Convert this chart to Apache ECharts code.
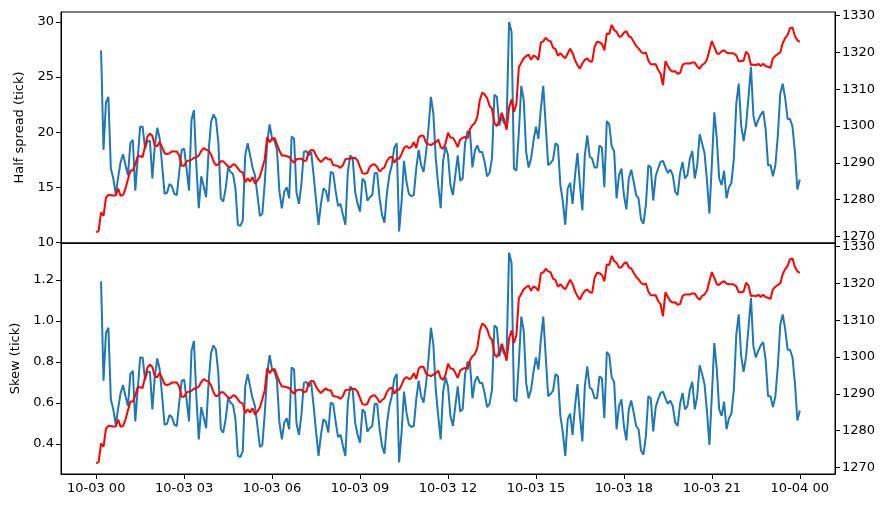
<!DOCTYPE html>
<html>
<head>
    <meta charset="utf-8">
    <title>Half spread / Skew</title>
    <script src="https://cdn.jsdelivr.net/npm/echarts@6/dist/echarts.min.js"></script>
    <style>
        html, body { margin: 0; padding: 0; background: #fff; }
        #main { width: 891px; height: 508px; }
    </style>
</head>
<body>
<div id="main"></div>
<script type="text/javascript">
    // 5 minute samples over 10-03; mid price starts 00:00, spread/skew start 00:10
    var stepHours = 5 / 60;
    var midStartIndex = 0;
    var spreadStartIndex = 2;

    // mid price (right axes, red), one line = one hour
    var midPrice = [
        1271.1,1271.5,1276.5,1275.6,1280.5,1281.3,1281.2,1281.1,1281.1,1283.0,1281.0,1281.3,
        1283.0,1285.5,1287.9,1287.9,1289.5,1291.8,1291.8,1291.6,1294.5,1297.2,1297.9,1297.3,
        1294.7,1294.5,1295.7,1294.2,1292.6,1292.4,1292.6,1293.1,1293.1,1293.1,1292.0,1289.2,
        1289.2,1290.4,1290.6,1290.8,1291.4,1291.5,1292.0,1293.2,1294.0,1293.6,1293.3,1292.3,
        1290.5,1289.3,1289.6,1290.4,1290.4,1289.7,1289.0,1288.8,1289.6,1289.4,1288.5,1287.6,
        1287.4,1284.7,1285.8,1284.9,1286.1,1284.3,1285.2,1286.3,1288.5,1291.0,1297.0,1295.6,
        1296.5,1296.8,1295.0,1293.3,1292.0,1292.0,1291.8,1291.6,1290.7,1290.0,1291.0,1291.1,
        1291.1,1290.5,1290.6,1292.9,1293.5,1293.4,1292.0,1290.9,1290.2,1290.9,1291.5,1290.9,
        1291.0,1289.4,1289.3,1289.1,1288.6,1289.4,1291.0,1291.1,1291.1,1291.4,1291.3,1290.6,
        1288.8,1287.2,1287.0,1287.3,1288.9,1289.5,1289.6,1288.8,1287.6,1288.3,1288.8,1290.5,
        1291.4,1291.7,1290.0,1291.1,1291.1,1292.4,1294.0,1294.6,1294.0,1294.3,1295.6,1294.0,
        1296.9,1297.4,1297.3,1295.5,1295.1,1294.8,1295.2,1295.6,1296.3,1294.3,1293.8,1295.2,
        1298.2,1296.9,1296.8,1295.7,1294.3,1296.4,1296.8,1297.0,1296.7,1299.1,1300.2,1300.8,
        1302.5,1307.0,1309.1,1308.6,1307.6,1305.5,1304.7,1300.8,1300.0,1301.5,1303.6,1301.6,
        1299.0,1305.0,1307.2,1303.8,1306.0,1316.0,1317.2,1318.4,1319.0,1319.4,1318.0,1319.2,
        1318.8,1318.0,1322.7,1323.0,1324.0,1323.3,1323.0,1321.3,1320.9,1319.1,1319.8,1319.0,
        1318.4,1319.7,1321.0,1319.8,1317.9,1316.5,1315.6,1317.0,1318.0,1318.4,1317.6,1317.5,
        1321.5,1322.9,1322.8,1322.3,1320.6,1325.2,1325.0,1327.5,1326.1,1325.6,1324.3,1324.4,
        1325.4,1325.8,1324.4,1324.1,1322.9,1321.8,1321.1,1320.2,1319.7,1320.0,1317.8,1316.8,
        1316.8,1316.8,1315.3,1314.3,1311.1,1317.6,1316.3,1315.2,1314.8,1314.9,1314.2,1314.4,
        1316.6,1317.0,1317.0,1317.0,1317.3,1317.3,1316.2,1315.6,1316.6,1317.0,1318.0,1320.6,
        1323.1,1321.5,1319.8,1319.6,1320.3,1320.6,1320.0,1319.8,1319.8,1319.7,1319.2,1317.6,
        1317.6,1317.8,1320.2,1319.4,1316.6,1316.7,1316.5,1316.9,1316.3,1316.9,1316.3,1316.1,
        1315.8,1318.4,1319.1,1319.6,1320.0,1322.5,1323.9,1324.8,1326.6,1326.8,1324.5,1323.3,
        1322.9
    ];

    // half spread in ticks (top panel, blue)
    var halfSpread = [
        27.4,18.4,22.7,23.2,16.7,15.8,14.4,15.9,17.3,18.0,
        17.0,16.1,19.0,19.3,14.7,17.6,20.5,20.5,18.5,19.2,19.2,15.8,
        18.8,20.4,19.4,17.0,14.4,14.5,15.3,15.1,14.4,14.3,16.4,18.4,
        18.5,16.7,14.7,21.1,22.0,17.0,13.1,16.0,15.1,14.1,18.2,20.9,
        21.6,21.2,19.1,14.0,13.7,14.9,16.8,16.4,16.2,14.9,11.6,11.5,
        12.0,17.9,19.0,17.9,16.8,16.1,14.3,12.4,12.6,15.4,19.1,20.7,
        19.4,19.2,18.4,14.6,13.1,14.6,15.0,14.0,19.6,19.4,14.5,13.5,
        15.3,18.2,18.3,17.9,18.2,16.1,13.8,11.6,13.5,14.9,14.7,13.7,
        16.4,16.3,14.7,13.3,13.5,12.5,11.6,16.4,17.9,17.6,14.6,13.5,
        12.8,15.8,15.5,13.8,14.1,14.3,16.3,16.3,14.0,12.5,11.8,14.5,
        16.1,17.0,18.6,19.0,11.0,13.7,17.4,15.5,14.4,14.2,14.3,16.7,
        18.4,17.0,16.4,18.1,20.3,23.2,21.7,17.6,15.2,13.1,17.4,18.7,
        17.9,15.2,14.3,16.1,17.9,15.6,15.8,19.0,20.1,20.0,16.8,18.3,
        18.8,18.2,18.2,17.3,16.0,16.3,17.6,23.4,23.2,20.6,21.4,20.8,
        21.0,30.0,29.1,16.7,16.5,20.0,24.2,22.9,18.2,16.8,17.6,19.2,
        20.5,19.4,22.1,24.2,20.6,17.0,17.2,17.5,19.0,18.8,15.2,13.7,
        11.6,14.9,15.4,13.5,16.1,18.1,15.2,12.9,17.9,19.7,17.8,17.6,
        16.8,16.8,18.8,18.6,15.0,21.0,20.7,18.7,18.3,14.0,16.1,16.7,
        14.3,13.0,15.8,16.6,15.5,14.3,14.0,12.1,11.7,13.4,17.0,16.8,
        13.8,16.0,16.7,17.3,17.4,16.8,16.3,16.6,16.1,14.6,14.3,16.3,
        17.3,15.8,16.1,17.6,18.3,15.8,17.0,19.8,19.0,18.1,15.6,12.6,
        17.1,21.8,19.5,15.8,15.2,16.5,14.0,15.0,15.4,17.6,22.6,24.4,
        20.6,19.2,20.6,23.2,25.9,21.5,20.5,21.1,21.6,21.9,20.3,17.0,
        17.0,16.0,17.0,19.7,23.5,24.4,23.1,21.2,21.2,20.5,18.2,14.8,
        15.7
    ];

    // skew in ticks (bottom panel, blue)
    var skew = [
        1.194,0.709,0.940,0.967,0.618,0.569,0.494,0.574,0.649,0.687,
        0.633,0.585,0.741,0.757,0.510,0.665,0.822,0.822,0.714,0.752,0.752,0.569,
        0.730,0.817,0.763,0.633,0.494,0.499,0.542,0.531,0.494,0.488,0.602,0.709,
        0.714,0.618,0.510,0.854,0.902,0.633,0.423,0.580,0.531,0.477,0.698,0.843,
        0.881,0.860,0.746,0.472,0.456,0.521,0.623,0.602,0.591,0.521,0.342,0.337,
        0.364,0.681,0.741,0.681,0.623,0.585,0.488,0.386,0.396,0.548,0.746,0.833,
        0.763,0.752,0.709,0.504,0.423,0.504,0.526,0.472,0.773,0.763,0.499,0.445,
        0.542,0.698,0.703,0.681,0.698,0.585,0.461,0.342,0.445,0.521,0.510,0.456,
        0.602,0.596,0.510,0.434,0.445,0.391,0.342,0.602,0.681,0.665,0.504,0.445,
        0.407,0.569,0.553,0.461,0.477,0.488,0.596,0.596,0.472,0.391,0.353,0.499,
        0.585,0.633,0.719,0.741,0.310,0.456,0.655,0.553,0.494,0.483,0.488,0.618,
        0.709,0.633,0.602,0.692,0.811,0.967,0.887,0.665,0.537,0.423,0.655,0.725,
        0.681,0.537,0.488,0.585,0.681,0.558,0.569,0.741,0.800,0.795,0.623,0.703,
        0.730,0.698,0.698,0.649,0.580,0.596,0.665,0.978,0.967,0.827,0.871,0.838,
        0.849,1.333,1.284,0.618,0.607,0.795,1.021,0.951,0.698,0.623,0.665,0.752,
        0.822,0.763,0.907,1.021,0.827,0.633,0.644,0.660,0.741,0.730,0.537,0.456,
        0.342,0.521,0.548,0.445,0.585,0.692,0.537,0.413,0.681,0.779,0.676,0.665,
        0.623,0.623,0.730,0.719,0.526,0.849,0.833,0.725,0.703,0.472,0.585,0.618,
        0.488,0.418,0.569,0.612,0.553,0.488,0.472,0.369,0.348,0.440,0.633,0.623,
        0.461,0.580,0.618,0.649,0.655,0.623,0.596,0.612,0.585,0.504,0.488,0.596,
        0.649,0.569,0.585,0.665,0.703,0.569,0.633,0.784,0.741,0.692,0.558,0.396,
        0.638,0.892,0.768,0.569,0.537,0.607,0.472,0.526,0.548,0.665,0.934,1.032,
        0.827,0.752,0.827,0.967,1.112,0.876,0.822,0.854,0.881,0.897,0.811,0.633,
        0.633,0.580,0.633,0.779,0.983,1.032,0.961,0.860,0.860,0.822,0.698,0.515,
        0.564
    ];

    // tick labels
    var hourTicks = [0, 3, 6, 9, 12, 15, 18, 21, 24];
    var hourLabels = ['10-03 00', '10-03 03', '10-03 06', '10-03 09', '10-03 12',
                      '10-03 15', '10-03 18', '10-03 21', '10-04 00'];
    var spreadTicks = [10, 15, 20, 25, 30];
    var skewTicks = [0.4, 0.6, 0.8, 1.0, 1.2];
    var priceTicks = [1270, 1280, 1290, 1300, 1310, 1320, 1330];

    function pairs(values, startIndex) {
        return values.map(function (v, i) {
            return [(startIndex + i) * stepHours, v];
        });
    }

    var txt = { color: '#000', fontSize: 13, fontFamily: 'DejaVu Sans' };

    function yAxis(grid, side, min, max, ticks, fmt, name, gap) {
        return {
            type: 'value', gridIndex: grid, position: side, min: min, max: max,
            name: name || '', nameLocation: 'middle', nameRotate: 90, nameGap: gap || 0,
            nameTextStyle: txt,
            axisLine: { show: true, onZero: false, lineStyle: { color: '#000', width: 1 } },
            axisTick: { show: true, length: 5, customValues: ticks, lineStyle: { color: '#000' } },
            axisLabel: Object.assign({ customValues: ticks, margin: 7, formatter: fmt }, txt),
            splitLine: { show: false }
        };
    }

    function xAxis(grid, labels) {
        return {
            type: 'value', gridIndex: grid, min: -1.2, max: 25.2,
            axisLine: { show: true, onZero: false, lineStyle: { color: '#000', width: 1 } },
            axisTick: { show: labels, length: 5, customValues: hourTicks, lineStyle: { color: '#000' } },
            axisLabel: Object.assign({
                show: labels, customValues: hourTicks, margin: 8,
                formatter: function (h) { return hourLabels[hourTicks.indexOf(h)]; }
            }, txt),
            splitLine: { show: false }
        };
    }

    var plain = function (v) { return String(v); };
    var oneDec = function (v) { return v.toFixed(1); };

    var myChart = echarts.init(document.getElementById('main'));
    myChart.setOption({
        animation: false,
        backgroundColor: '#fff',
        grid: [
            { left: 61, right: 56, top: 12, height: 231, show: true, borderColor: '#000', borderWidth: 1 },
            { left: 61, right: 56, top: 243, height: 231, show: true, borderColor: '#000', borderWidth: 1 }
        ],
        xAxis: [ xAxis(0, false), xAxis(1, true) ],
        yAxis: [
            yAxis(0, 'left', 9.95, 30.9, spreadTicks, plain, 'Half spread (tick)', 34),
            yAxis(0, 'right', 1268.2, 1331.0, priceTicks, plain),
            yAxis(1, 'left', 0.254, 1.380, skewTicks, oneDec, 'Skew (tick)', 36),
            yAxis(1, 'right', 1268.2, 1331.0, priceTicks, plain)
        ],
        series: [
            {
                name: 'Half spread', type: 'line', xAxisIndex: 0, yAxisIndex: 0,
                data: pairs(halfSpread, spreadStartIndex), showSymbol: false,
                lineStyle: { color: '#1f77b4', width: 2 }, itemStyle: { color: '#1f77b4' }
            },
            {
                name: 'Mid', type: 'line', xAxisIndex: 0, yAxisIndex: 1,
                data: pairs(midPrice, midStartIndex), showSymbol: false,
                lineStyle: { color: '#ff0000', width: 2 }, itemStyle: { color: '#ff0000' }
            },
            {
                name: 'Skew', type: 'line', xAxisIndex: 1, yAxisIndex: 2,
                data: pairs(skew, spreadStartIndex), showSymbol: false,
                lineStyle: { color: '#1f77b4', width: 2 }, itemStyle: { color: '#1f77b4' }
            },
            {
                name: 'Mid 2', type: 'line', xAxisIndex: 1, yAxisIndex: 3,
                data: pairs(midPrice, midStartIndex), showSymbol: false,
                lineStyle: { color: '#ff0000', width: 2 }, itemStyle: { color: '#ff0000' }
            }
        ]
    });
</script>
</body>
</html>
